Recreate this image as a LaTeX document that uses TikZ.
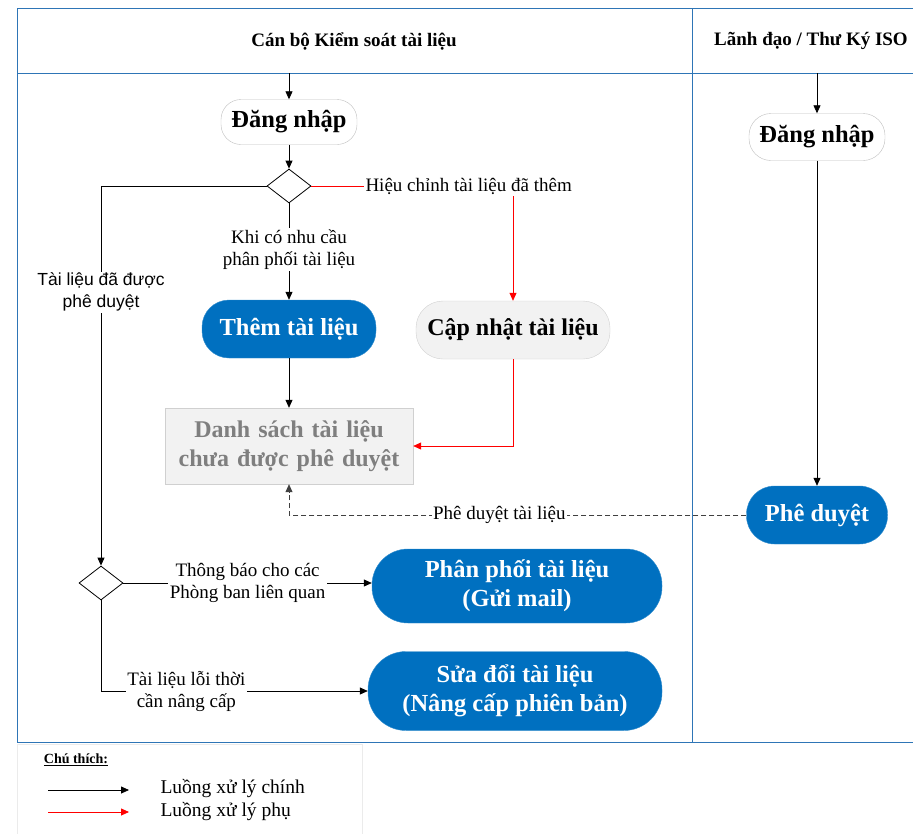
\documentclass[tikz,border=0pt]{standalone}
\usepackage{fontspec}
\setmainfont{Liberation Serif}
\newfontfamily\arialf{Liberation Sans}
\usetikzlibrary{arrows.meta,shapes.geometric}
\definecolor{lane}{HTML}{2E75B6}
\definecolor{bluebox}{HTML}{0070C0}
\definecolor{lightbox}{HTML}{F2F2F2}
\definecolor{lightborder}{HTML}{D0D0D0}
\definecolor{graytext}{HTML}{7F7F7F}
\definecolor{redline}{HTML}{FF0000}
\begin{document}
\begin{tikzpicture}[x=1pt,y=-1pt,
  tip/.style={-{Triangle[width=7pt,length=8pt]}},
  main/.style={draw=black,line width=0.8pt,tip},
  sub/.style={draw=redline,line width=0.8pt,tip},
  dashline/.style={draw=black!75,line width=0.8pt,dash pattern=on 5pt off 3pt,tip},
  lanebox/.style={draw=lane,line width=1pt},
  whitebox/.style={draw=black!25,fill=white,rounded corners=20pt,font=\fontsize{24.5}{28}\selectfont\bfseries,inner sep=0pt},
  bluenode/.style={draw=bluebox!80,fill=bluebox,text=white,font=\fontsize{24.5}{29}\selectfont\bfseries,align=center,inner sep=0pt},
  graynode/.style={draw=lightborder,fill=lightbox,font=\fontsize{24}{29}\selectfont\bfseries,align=center,inner sep=0pt},
  decision/.style={draw=black,line width=0.8pt,fill=white,diamond,aspect=1.3,minimum width=44pt,minimum height=34pt,inner sep=0pt},
  elabel/.style={fill=white,font=\fontsize{19}{22}\selectfont,align=center,inner sep=1.5pt},
  slabel/.style={fill=white,font=\arialf\fontsize{17.5}{22}\selectfont,align=center,inner sep=1.5pt},
  header/.style={font=\fontsize{19}{22}\selectfont\bfseries}
]
\useasboundingbox (0,0) rectangle (913,833);
% swimlane frame
\draw[lanebox] (17,8) -- (930,8);
\draw[lanebox] (17,73) -- (930,73);
\draw[lanebox] (17,742) -- (930,742);
\draw[lanebox] (17,8) -- (17,742);
\draw[lanebox] (692,8) -- (692,742);
\node[header] (h1) at (354,41) {Cán bộ Kiểm soát tài liệu};
\node[header] (h2) at (811,41) {Lãnh đạo / Thư Ký ISO};
% legend
\draw[draw=black!8,line width=0.8pt] (17,744) rectangle (362,835);
\node[font=\fontsize{14}{16}\selectfont\bfseries] (legt) at (76,760) {\underline{Chú thích:}};
\coordinate (la1) at (48,790);
\coordinate (lb1) at (129,790);
\coordinate (la2) at (48,812);
\coordinate (lb2) at (129,812);
\draw[main] (la1) -- (lb1);
\draw[sub] (la2) -- (lb2);
\node[anchor=west,font=\fontsize{19.5}{22}\selectfont] (lt1) at (157,789) {Luồng xử lý chính};
\node[anchor=west,font=\fontsize{19.5}{22}\selectfont] (lt2) at (157,812) {Luồng xử lý phụ};
% left lane nodes
\coordinate (s1) at (289,73);
\node[whitebox,minimum width=136pt,minimum height=45pt] (login1) at (289,122) {Đăng nhập};
\node[decision] (d1) at (289,186) {};
\node[bluenode,minimum width=174pt,minimum height=58pt,rounded corners=27pt] (add) at (289,329) {Thêm tài liệu};
\node[graynode,fill=lightbox,draw=lightborder,minimum width=194pt,minimum height=58pt,rounded corners=27pt] (upd) at (513,330) {Cập nhật tài liệu};
\node[graynode,text=graytext,minimum width=248pt,minimum height=76pt,text width=240pt] (list) at (289,446) {Danh sách tài liệu\\chưa được phê duyệt};
\node[decision] (d2) at (101,583) {};
\node[bluenode,minimum width=290pt,minimum height=74pt,rounded corners=36pt] (dist) at (517,586) {Phân phối tài liệu\\(Gửi mail)};
\node[bluenode,minimum width=294pt,minimum height=79pt,rounded corners=38pt] (edit) at (515,691) {Sửa đổi tài liệu\\(Nâng cấp phiên bản)};
% right lane nodes
\coordinate (s2) at (817,73);
\node[whitebox,minimum width=136pt,minimum height=47pt,rounded corners=22pt] (login2) at (817,137) {Đăng nhập};
\node[bluenode,minimum width=141pt,minimum height=58pt,rounded corners=28pt] (appr) at (817,515) {Phê duyệt};
% connectors
\draw[main] (s1) -- (login1);
\draw[main] (login1) -- (d1);
\draw[main] (d1) -- node[elabel,pos=0.48] (lk) {Khi có nhu cầu\\phân phối tài liệu} (add);
\draw[sub] (d1.east) -| node[elabel,pos=0.39] (lh) {Hiệu chỉnh tài liệu đã thêm} (upd.north);
\draw[main] (add) -- (list);
\draw[sub] (upd.south) |- (list.east);
\draw[main] (d1.west) -| node[slabel,pos=0.64] (lt) {Tài liệu đã được\\phê duyệt} (d2.north);
\draw[main] (d2.east) -- node[elabel,pos=0.5] (lth) {Thông báo cho các\\Phòng ban liên quan} (d2.east -| dist.west);
\draw[main] (d2.south) |- node[elabel,pos=0.66] (lo) {Tài liệu lỗi thời\\cần nâng cấp} (edit.west);
\draw[main] (s2) -- (login2);
\draw[main] (login2) -- (appr);
\draw[dashline] (appr.west) -| node[elabel,pos=0.27] (lp) {Phê duyệt tài liệu} (list.south);
\end{tikzpicture}
\end{document}
